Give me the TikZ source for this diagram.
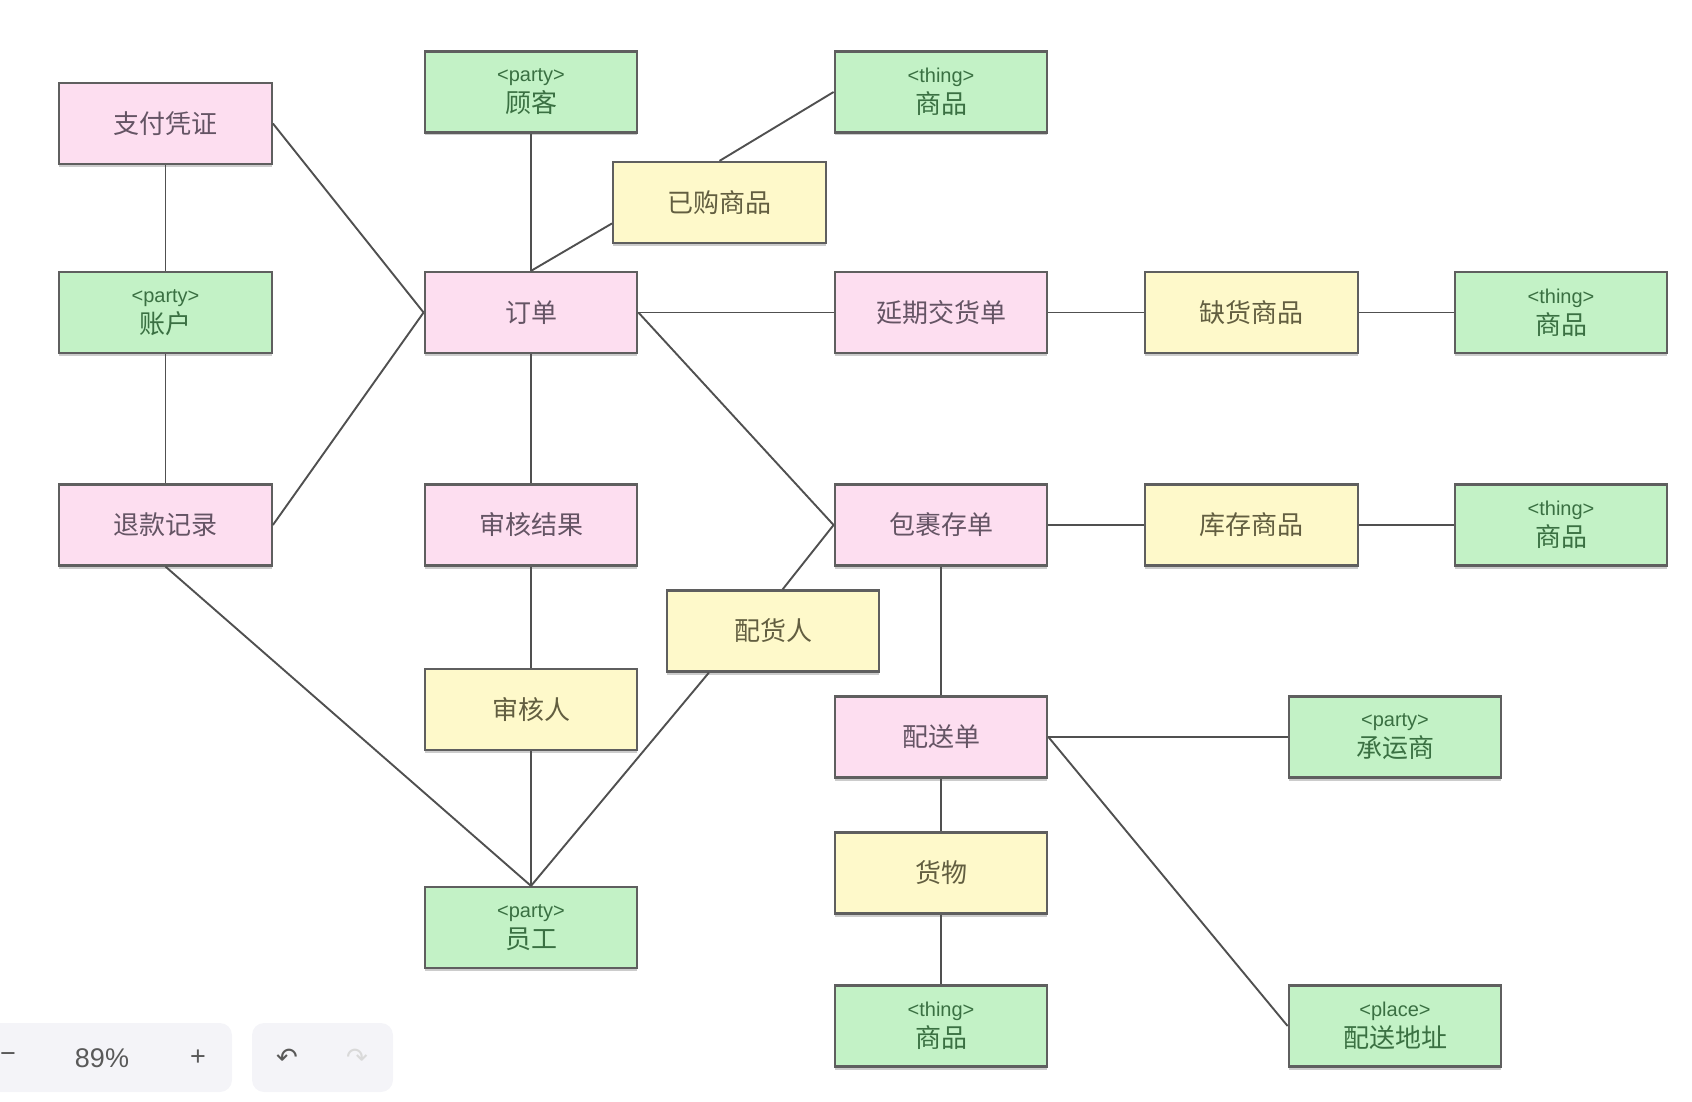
\documentclass[tikz,border=0pt]{standalone}
\usepackage{fontspec}
\setmainfont{Noto Sans CJK SC}
\newfontfamily\latinfont{Liberation Sans}
\newfontfamily\symfont{DejaVu Sans}
\usetikzlibrary{shadows}

\definecolor{pinkfill}{RGB}{253,222,240}
\definecolor{greenfill}{RGB}{195,242,198}
\definecolor{yellowfill}{RGB}{254,249,202}
\definecolor{boxline}{RGB}{95,95,95}
\definecolor{pinktext}{RGB}{100,84,100}
\definecolor{greentext}{RGB}{58,112,66}
\definecolor{yellowtext}{RGB}{98,94,64}
\definecolor{linkgray}{RGB}{80,80,80}
\definecolor{barfill}{RGB}{244,244,248}
\newcommand{\stereo}[1]{{\latinfont\fontsize{10}{12}\selectfont\textless#1\textgreater}\\}

\begin{document}
\begin{tikzpicture}[x=0.5pt,y=-0.5pt,
	box/.style={rectangle,draw=boxline,line width=1.1pt,minimum width=106.3pt,minimum height=40.5pt,inner sep=0pt,align=center,font=\fontsize{13}{15.6}\selectfont,drop shadow={shadow xshift=0pt,shadow yshift=-1.5pt,opacity=.4}},
	moment/.style={box,fill=pinkfill,text=pinktext},
	role/.style={box,fill=yellowfill,text=yellowtext},
	pthing/.style={box,fill=greenfill,text=greentext},
	link/.style={draw=linkgray,line width=0.95pt},
	barbox/.style={rectangle,rounded corners=6pt,fill=barfill,inner sep=0pt,minimum height=34.5pt},
	bartext/.style={text=black!65,font=\latinfont\fontsize{13.5}{16}\selectfont},
	]
	\useasboundingbox (0,0) rectangle (1692,1102);
	% left column
	\node (pay) [moment] at (165.5,123.5) {支付凭证};
	\node (acct) [pthing] at (165.5,312.5) {\stereo{party}账户};
	\node (refund) [moment] at (165.5,525) {退款记录};
	% order column
	\node (cust) [pthing] at (531,92) {\stereo{party}顾客};
	\node (order) [moment] at (531,312.5) {订单};
	\node (audit) [moment] at (531,525) {审核结果};
	\node (auditor) [role] at (531,709.5) {审核人};
	\node (staff) [pthing] at (531,927.5) {\stereo{party}员工};
	\node (bought) [role] at (719.5,202.5) {已购商品};
	\node (picker) [role] at (773,631) {配货人};
	% middle column
	\node (goodsA) [pthing] at (941,92) {\stereo{thing}商品};
	\node (backord) [moment] at (941,312.5) {延期交货单};
	\node (parcel) [moment] at (941,525) {包裹存单};
	\node (ship) [moment] at (941,737) {配送单};
	\node (cargo) [role] at (941,873) {货物};
	\node (goodsD) [pthing] at (941,1026) {\stereo{thing}商品};
	% right side
	\node (short) [role] at (1251.5,312.5) {缺货商品};
	\node (goodsB) [pthing] at (1561,312.5) {\stereo{thing}商品};
	\node (stock) [role] at (1251.5,525) {库存商品};
	\node (goodsC) [pthing] at (1561,525) {\stereo{thing}商品};
	\node (carrier) [pthing] at (1395,737) {\stereo{party}承运商};
	\node (addr) [pthing] at (1395,1026) {\stereo{place}配送地址};

	\draw[link] (pay.south) -- (acct.north);
	\draw[link] (acct.south) -- (refund.north);
	\draw[link] (pay.east) -- (order.west);
	\draw[link] (refund.east) -- (order.west);
	\draw[link] (refund.south) -- (staff.north);
	\draw[link] (cust.south) -- (order.north);
	\draw[link] (order.north) -- (bought.191);
	\draw[link] (bought.north) -- (goodsA.west);
	\draw[link] (order.south) -- (audit.north);
	\draw[link] (audit.south) -- (auditor.north);
	\draw[link] (auditor.south) -- (staff.north);
	\draw[link] (order.east) -- (backord.west);
	\draw[link] (backord.east) -- (short.west);
	\draw[link] (short.east) -- (goodsB.west);
	\draw[link] (order.east) -- (parcel.west);
	\draw[link] (parcel.west) -- (picker.77);
	\draw[link] (picker.213) -- (staff.north);
	\draw[link] (parcel.east) -- (stock.west);
	\draw[link] (stock.east) -- (goodsC.west);
	\draw[link] (parcel.south) -- (ship.north);
	\draw[link] (ship.east) -- (carrier.west);
	\draw[link] (ship.east) -- (addr.west);
	\draw[link] (ship.south) -- (cargo.north);
	\draw[link] (cargo.south) -- (goodsD.north);

	% zoom bar
	\node (zoombar) [barbox,minimum width=130pt] at (102,1057.5) {};
	\node (zoomout) [bartext] at (8,1058) {−};
	\node (zoomval) [bartext] at (102,1058) {89\%};
	\node (zoomin) [bartext] at (198,1058) {+};
	\node (histbar) [barbox,minimum width=70.5pt] at (322.5,1057.5) {};
	\node (undo) [text=black!65,font=\symfont\fontsize{13}{15}\selectfont] at (287,1058) {↶};
	\node (redo) [text=black!15,font=\symfont\fontsize{13}{15}\selectfont] at (357,1058) {↷};
\end{tikzpicture}
\end{document}
